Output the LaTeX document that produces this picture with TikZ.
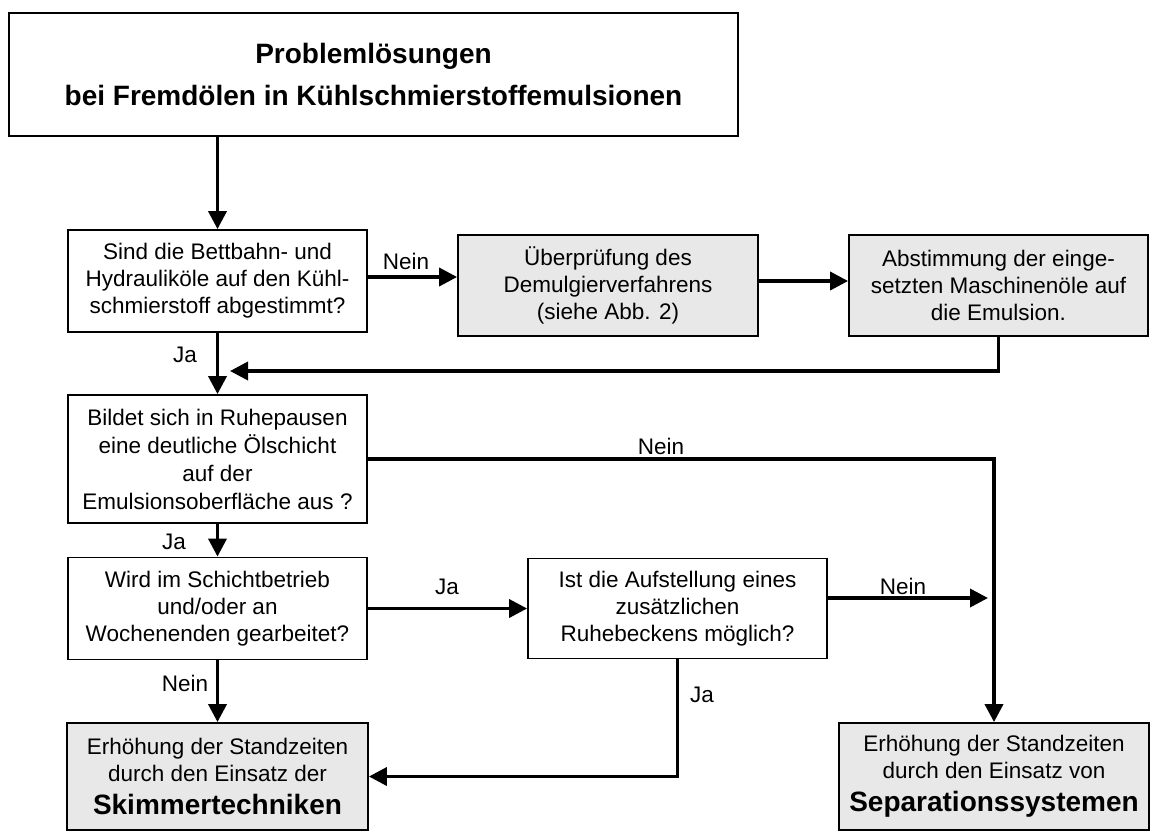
\documentclass[tikz,border=0pt]{standalone}
\usepackage{fontspec}
\setmainfont{Liberation Sans}
\usetikzlibrary{arrows.meta}
\definecolor{kastengrau}{gray}{0.91}
\begin{document}
\begin{tikzpicture}[x=1pt,y=-1pt,
  box/.style={draw,line width=1.8pt,align=center,inner sep=0pt,font=\fontsize{22.5}{27}\selectfont},
  grau/.style={box,fill=kastengrau},
  pfeil/.style={line width=3.6pt,-{Triangle[length=18pt,width=18pt]}},
  marke/.style={inner sep=0pt,font=\fontsize{22.5}{25}\selectfont}]
  \useasboundingbox (0,0) rectangle (1150,831);
  \node[box,minimum width=729pt,minimum height=123pt,font=\bfseries\fontsize{28}{42}\selectfont] (titel) at (373.5,74.5)
    {Problemlösungen\\bei Fremdölen in Kühlschmierstoffemulsionen};
  \node[box,minimum width=299pt,minimum height=102pt] (frage1) at (217.5,281)
    {Sind die Bettbahn- und\\Hydrauliköle auf den Kühl-\\schmierstoff abgestimmt?};
  \node[grau,minimum width=300pt,minimum height=101pt] (pruef) at (608,285.5)
    {Überprüfung des\\Demulgierverfahrens\\(siehe Abb. 2)};
  \node[grau,minimum width=299pt,minimum height=101pt] (abst) at (998.5,285.5)
    {Abstimmung der einge-\\setzten Maschinenöle auf\\die Emulsion.};
  \node[box,minimum width=299pt,minimum height=128pt,font=\fontsize{22.5}{28}\selectfont] (frage2) at (217.5,459)
    {Bildet sich in Ruhepausen\\eine deutliche Ölschicht\\auf der\\Emulsionsoberfläche aus ?};
  \node[box,minimum width=299pt,minimum height=102pt] (frage3) at (217.5,608.5)
    {Wird im Schichtbetrieb\\und/oder an\\Wochenenden gearbeitet?};
  \node[box,minimum width=299pt,minimum height=100pt] (frage4) at (677.5,608.5)
    {Ist die Aufstellung eines\\zusätzlichen\\Ruhebeckens möglich?};
  \node[grau,minimum width=301pt,minimum height=107pt] (skim) at (217.5,776.5)
    {Erhöhung der Standzeiten\\durch den Einsatz der\\[6pt]{\bfseries\fontsize{28}{34}\selectfont Skimmertechniken}};
  \node[grau,minimum width=310pt,minimum height=107pt] (sep) at (994,776.5)
    {Erhöhung der Standzeiten\\durch den Einsatz von\\[6pt]{\bfseries\fontsize{28}{34}\selectfont Separationssystemen}};
  \coordinate (n1) at ([yshift=4pt]frage1.east);
  \coordinate (n2) at ([yshift=4.5pt]pruef.east);
  \coordinate (n3) at ([yshift=10.5pt]frage4.east);
  \coordinate (rueck) at (230,371);
  \coordinate (sepzu) at (988,598);
  \draw[pfeil] (titel.south -| frage1.north) -- (frage1.north);
  \draw[pfeil] (n1) -- (n1 -| pruef.west);
  \draw[pfeil] (n2) -- (n2 -| abst.west);
  \draw[pfeil] (abst.south) |- (rueck);
  \draw[pfeil] (frage1.south) -- (frage2.north);
  \draw[pfeil] (frage2.east) -| (sep.north);
  \draw[pfeil] (frage2.south) -- (frage3.north);
  \draw[pfeil] (frage3.east) -- (frage4.west);
  \draw[pfeil] (n3) -- (sepzu);
  \draw[pfeil] (frage4.south) |- (skim.east);
  \draw[pfeil] (frage3.south) -- (skim.north);
  \node[marke] (l1) at (406,261) {Nein};
  \node[marke] (l2) at (185,355) {Ja};
  \node[marke] (l3) at (661,446) {Nein};
  \node[marke] (l4) at (174,542) {Ja};
  \node[marke] (l5) at (447,587) {Ja};
  \node[marke] (l6) at (903,586) {Nein};
  \node[marke] (l7) at (185,683) {Nein};
  \node[marke] (l8) at (702,695) {Ja};
\end{tikzpicture}
\end{document}
